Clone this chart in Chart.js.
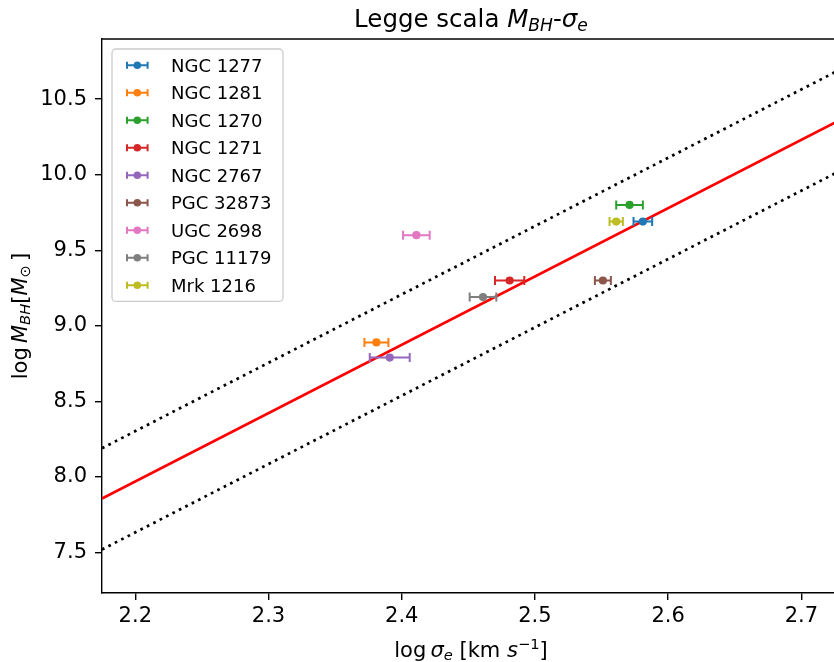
<!DOCTYPE html>
<html>
<head>
<meta charset="utf-8">
<script src="https://cdn.jsdelivr.net/npm/chart.js@4"></script>
<style>
  html, body { margin: 0; padding: 0; background: #fff; overflow: hidden; }
  #wrap { position: relative; width: 846px; height: 662px; }
</style>
</head>
<body>
<div id="wrap"><canvas id="chart"></canvas></div>
<script>
// galaxy sample
const galaxies = ['NGC 1277', 'NGC 1281', 'NGC 1270', 'NGC 1271', 'NGC 2767', 'PGC 32873', 'UGC 2698', 'PGC 11179', 'Mrk 1216'];
const logSigma = [2.581, 2.381, 2.571, 2.481, 2.391, 2.551, 2.411, 2.461, 2.561];
const logMass  = [9.69, 8.89, 9.80, 9.30, 8.79, 9.30, 9.60, 9.19, 9.69];
const sigmaErr = [0.007, 0.009, 0.010, 0.011, 0.015, 0.006, 0.010, 0.010, 0.005];
const colors = ['#1f77b4', '#ff7f0e', '#2ca02c', '#d62728', '#9467bd', '#8c564b', '#e377c2', '#7f7f7f', '#bcbd22'];

// scaling relation and scatter band
const fitX   = [2.175, 2.73];
const fitY   = [7.857, 10.366];
const upperY = [8.19, 10.70];
const lowerY = [7.52, 10.03];

const xTicks = [2.2, 2.3, 2.4, 2.5, 2.6, 2.7];
const yTicks = [7.5, 8.0, 8.5, 9.0, 9.5, 10.0, 10.5];

const FONT = "'DejaVu Sans', sans-serif";

function pts(xs, ys) {
    return xs.map((x, i) => ({ x: x, y: ys[i] }));
}

// draw a string made of several pieces (italic, sub/superscript)
function drawRich(ctx, parts, x, y, size) {
    let total = 0;
    parts.forEach(p => {
        const s = (p.sub || p.sup) ? size * 0.7 : size;
        p.font = (p.it ? 'italic ' : '') + s + 'px ' + FONT;
        ctx.font = p.font;
        p.w = ctx.measureText(p.t).width;
        total += p.w;
    });
    let cx = x - total / 2;
    ctx.textAlign = 'left';
    ctx.textBaseline = 'alphabetic';
    parts.forEach(p => {
        const dy = p.sub ? size * 0.16 : (p.sup ? -size * 0.38 : 0);
        ctx.font = p.font;
        ctx.fillText(p.t, cx, y + dy);
        cx += p.w;
    });
}

const datasets = galaxies.map((name, i) => ({
    label: name,
    data: [{ x: logSigma[i], y: logMass[i] }],
    xErr: sigmaErr[i],
    backgroundColor: colors[i],
    borderColor: colors[i],
    pointRadius: 4.1,
    borderWidth: 0
}));

datasets.push({
    label: 'fit',
    data: pts(fitX, fitY),
    showLine: true,
    borderColor: '#ff0000',
    borderWidth: 2.7,
    pointRadius: 0
});
[upperY, lowerY].forEach(ys => {
    datasets.push({
        label: 'scatter',
        data: pts(fitX, ys),
        showLine: true,
        borderColor: '#000000',
        borderWidth: 2.7,
        borderDash: [2.7, 4.5],
        pointRadius: 0
    });
});

const errorBars = {
    id: 'errorBars',
    beforeDatasetDraw(chart, args) {
        const ds = chart.data.datasets[args.index];
        if (ds.xErr === undefined) return;
        const ctx = chart.ctx;
        const xs = chart.scales.x, ys = chart.scales.y;
        ctx.save();
        ctx.strokeStyle = ds.borderColor;
        ctx.lineWidth = 2;
        ds.data.forEach(p => {
            const x0 = xs.getPixelForValue(p.x - ds.xErr);
            const x1 = xs.getPixelForValue(p.x + ds.xErr);
            const y = ys.getPixelForValue(p.y);
            ctx.beginPath();
            ctx.moveTo(x0, y); ctx.lineTo(x1, y);
            ctx.moveTo(x0, y - 4.5); ctx.lineTo(x0, y + 4.5);
            ctx.moveTo(x1, y - 4.5); ctx.lineTo(x1, y + 4.5);
            ctx.stroke();
        });
        ctx.restore();
    }
};

const decorations = {
    id: 'decorations',
    afterDraw(chart) {
        const ctx = chart.ctx;
        const a = chart.chartArea;
        const mid = (a.left + a.right) / 2;
        ctx.save();

        // top spine
        ctx.strokeStyle = '#000';
        ctx.lineWidth = 1.4;
        ctx.beginPath();
        ctx.moveTo(a.left, a.top); ctx.lineTo(a.right, a.top);
        ctx.stroke();

        ctx.fillStyle = '#000';
        // title
        drawRich(ctx, [
            { t: 'Legge scala ' }, { t: 'M', it: true }, { t: 'BH', it: true, sub: true },
            { t: '-' }, { t: 'σ', it: true }, { t: 'e', it: true, sub: true }
        ], mid, 27, 24.5);

        // x label
        drawRich(ctx, [
            { t: 'log\u2009' }, { t: 'σ', it: true }, { t: 'e', it: true, sub: true },
            { t: ' [km ' }, { t: 's', it: true }, { t: '\u22121', sup: true }, { t: ']' }
        ], mid, 656.5, 21);

        // y label
        ctx.save();
        ctx.translate(27, (a.top + a.bottom) / 2);
        ctx.rotate(-Math.PI / 2);
        drawRich(ctx, [
            { t: 'log\u2009' }, { t: 'M', it: true }, { t: 'BH', it: true, sub: true },
            { t: '[' }, { t: 'M', it: true }, { t: '\u2299', sub: true }, { t: '\u2009]' }
        ], 0, 0, 21);
        ctx.restore();

        // legend
        const lx = a.left + 10, ly = a.top + 10, lw = 171, lh = 252.4;
        ctx.beginPath();
        ctx.roundRect(lx, ly, lw, lh, 4);
        ctx.fillStyle = 'rgba(255,255,255,0.8)';
        ctx.fill();
        ctx.strokeStyle = '#cccccc';
        ctx.lineWidth = 1.3;
        ctx.stroke();

        ctx.font = '18px ' + FONT;
        ctx.textAlign = 'left';
        ctx.textBaseline = 'alphabetic';
        galaxies.forEach((name, i) => {
            const yc = ly + 16.2 + i * 27.5;
            const m0 = lx + 15, m1 = lx + 35.6, mc = lx + 25.3;
            ctx.strokeStyle = colors[i];
            ctx.lineWidth = 2;
            ctx.beginPath();
            ctx.moveTo(m0, yc); ctx.lineTo(m1, yc);
            ctx.moveTo(m0, yc - 3.5); ctx.lineTo(m0, yc + 3.5);
            ctx.moveTo(m1, yc - 3.5); ctx.lineTo(m1, yc + 3.5);
            ctx.stroke();
            ctx.fillStyle = colors[i];
            ctx.beginPath();
            ctx.arc(mc, yc, 3.8, 0, Math.PI * 2);
            ctx.fill();
            ctx.fillStyle = '#000';
            ctx.fillText(name, lx + 59, yc + 6.6);
        });
        ctx.restore();
    }
};

new Chart(document.getElementById('chart'), {
    type: 'scatter',
    data: { datasets: datasets },
    options: {
        responsive: true,
        maintainAspectRatio: false,
        animation: false,
        events: [],
        layout: { padding: { top: 39, right: 6, left: 0, bottom: 0 } },
        plugins: {
            legend: { display: false },
            tooltip: { enabled: false },
            title: { display: false }
        },
        scales: {
            x: {
                type: 'linear',
                min: 2.175,
                max: 2.729,
                afterFit(scale) { scale.height = 69; },
                afterBuildTicks(scale) { scale.ticks = xTicks.map(v => ({ value: v })); },
                ticks: {
                    color: '#000',
                    font: { family: FONT, size: 21 },
                    padding: 4,
                    maxRotation: 0,
                    callback: v => v.toFixed(1)
                },
                grid: { drawOnChartArea: false, drawTicks: true, tickLength: 7, color: '#000', lineWidth: 1.4 },
                border: { display: true, color: '#000', width: 1.4 }
            },
            y: {
                type: 'linear',
                min: 7.232,
                max: 10.898,
                afterFit(scale) { scale.width = 102; },
                afterBuildTicks(scale) { scale.ticks = yTicks.map(v => ({ value: v })); },
                ticks: {
                    color: '#000',
                    font: { family: FONT, size: 21 },
                    padding: 8,
                    callback: v => v.toFixed(1)
                },
                grid: { drawOnChartArea: false, drawTicks: true, tickLength: 7, color: '#000', lineWidth: 1.4 },
                border: { display: true, color: '#000', width: 1.4 }
            }
        }
    },
    plugins: [errorBars, decorations]
});
</script>
</body>
</html>
